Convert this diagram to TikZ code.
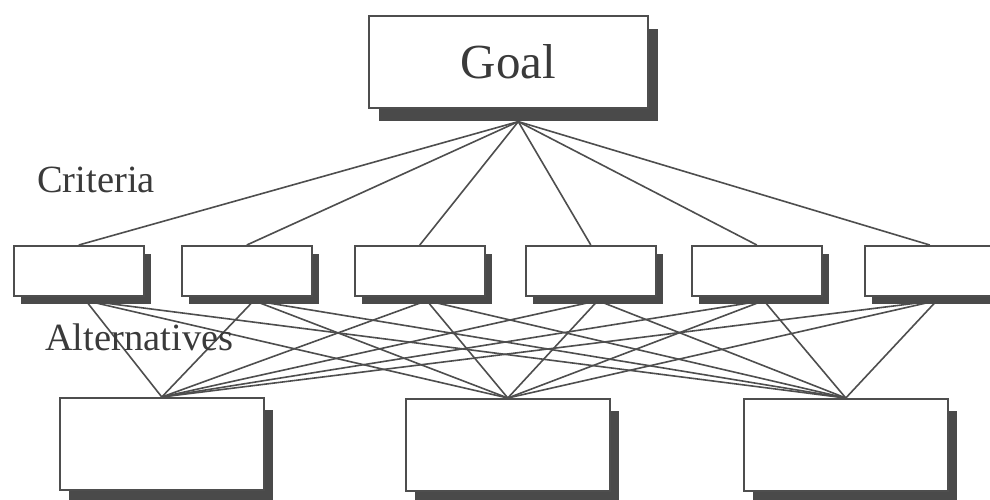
\documentclass[tikz,border=0pt]{standalone}
\usepackage{fontspec}
\setmainfont{Liberation Serif}
\usetikzlibrary{shadows,calc,backgrounds}
\definecolor{ln}{HTML}{4E4E4E}
\definecolor{sh}{HTML}{4A4A4A}
\definecolor{tx}{HTML}{3A3A3A}
\begin{document}
\begin{tikzpicture}[x=1pt,y=-1pt,
 box/.style={draw=ln, line width=1.6pt, fill=white, inner sep=0pt, anchor=north west},
 goalbox/.style={box, minimum width=279pt, minimum height=92pt,
   drop shadow={shadow xshift=10pt, shadow yshift=-13pt, fill=sh, opacity=1}},
 critbox/.style={box, minimum width=130pt, minimum height=50pt,
   drop shadow={shadow xshift=7pt, shadow yshift=-8pt, fill=sh, opacity=1}},
 altbox/.style={box, minimum width=204pt, minimum height=92pt,
   drop shadow={shadow xshift=9pt, shadow yshift=-12pt, fill=sh, opacity=1}},
 edge/.style={draw=ln, line width=1.6pt},
 lbl/.style={font=\fontsize{38.5}{42}\selectfont, text=tx, anchor=base west, inner sep=0pt}]
\useasboundingbox (0,0) rectangle (990,499);
\clip (0,0) rectangle (990,499);

\node[goalbox] (g) at (368,15) {};
\node[font=\fontsize{49}{52}\selectfont, text=tx, inner sep=0pt] (gt) at (g.center) {Goal};

\node[critbox] (c1) at (13,245) {};
\node[critbox] (c2) at (181,245) {};
\node[critbox] (c3) at (354,245) {};
\node[critbox] (c4) at (525,245) {};
\node[critbox] (c5) at (691,245) {};
\node[critbox] (c6) at (864,245) {};

\node[altbox] (a1) at (59,397) {};
\node[altbox] (a2) at (405,398) {};
\node[altbox] (a3) at (743,398) {};

\node[lbl] (lc) at (37,192) {Criteria};
\node[lbl] (la) at (45,350) {Alternatives};

\coordinate (go) at ($(g.south)+(10,13)$);
\begin{scope}[on background layer]
  \fill[white] (0,0) rectangle (990,499);
  \foreach \c in {c1,c2,c3,c4,c5,c6} {
    \draw[edge] (go) -- (\c.north);
    \foreach \a in {a1,a2,a3} {
      \draw[edge] ($(\c.south)+(7,4)$) -- (\a.north);
    }
  }
\end{scope}
\end{tikzpicture}
\end{document}
